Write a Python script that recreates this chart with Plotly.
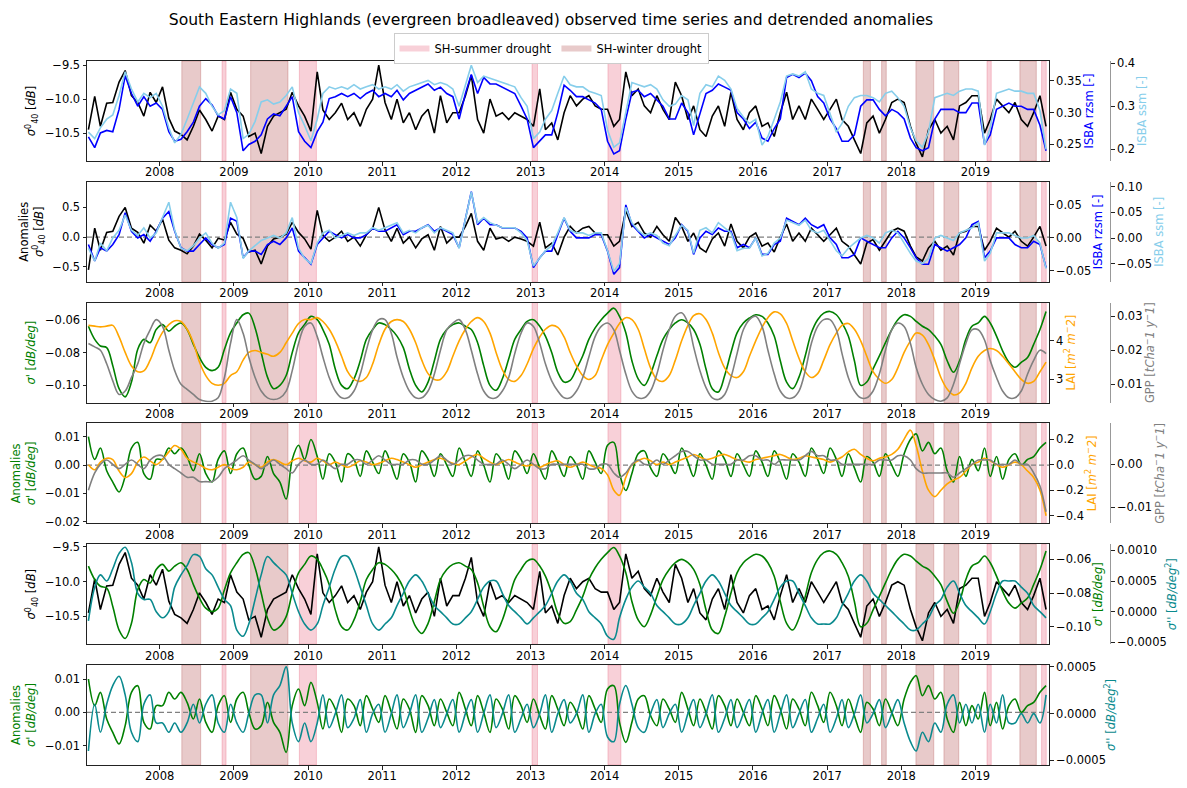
import pandas as pd
import plotly.graph_objects as go

# ---------------- data (monthly, Jan 2007 .. Dec 2019) ----------------
dates = pd.date_range("2007-01-01", "2019-12-01", freq="MS") + pd.Timedelta(days=14)

sigma40 = [
    -10.45, -9.96, -10.40, -10.06, -10.05, -9.75, -9.58, -9.95, -10.05, -10.25, -9.90, -10.05,
    -9.82, -10.28, -10.47, -10.52, -10.60, -10.40, -10.16, -10.30, -10.47, -10.25, -10.30, -9.90,
    -10.15, -10.25, -10.55, -10.50, -10.80, -10.40, -10.25, -10.20, -10.15, -9.90, -10.10, -10.25,
    -10.47, -9.60, -10.16, -10.30, -10.20, -10.06, -10.30, -10.20, -10.40, -10.15, -10.00, -9.50,
    -10.05, -10.30, -10.00, -10.35, -10.20, -10.45, -10.25, -10.15, -10.50, -9.95, -10.35, -10.20,
    -10.20, -9.95, -9.65, -10.30, -10.50, -10.00, -10.25, -10.20, -10.30, -10.20, -10.25, -10.30,
    -10.40, -9.85, -10.45, -10.35, -10.60, -10.20, -9.95, -10.10, -10.00, -9.95, -10.10, -10.15,
    -10.15, -10.40, -10.30, -9.60, -9.95, -9.85, -10.10, -10.20, -9.95, -10.15, -10.30, -9.75,
    -9.95, -10.30, -10.10, -10.45, -10.55, -10.25, -10.10, -10.40, -9.90, -10.30, -10.45, -10.20,
    -10.10, -10.40, -10.35, -10.55, -10.20, -9.90, -10.30, -10.10, -10.30, -10.00, -10.15, -10.30,
    -10.15, -10.00, -10.30, -10.40, -10.60, -10.80, -10.35, -10.25, -10.50, -10.30, -10.05, -10.00,
    -10.05, -10.40, -10.65, -10.85, -10.45, -10.30, -10.50, -10.40, -10.60, -10.10, -10.05, -9.95,
    -9.95, -10.50, -10.30, -10.00, -10.10, -10.20, -10.05, -10.30, -10.40, -10.20, -9.95, -10.40,
]
rzsm = [
    0.262, 0.245, 0.268, 0.272, 0.270, 0.305, 0.358, 0.330, 0.310, 0.325, 0.310, 0.315,
    0.305, 0.270, 0.255, 0.258, 0.270, 0.285, 0.310, 0.322, 0.312, 0.295, 0.290, 0.325,
    0.300, 0.240, 0.250, 0.255, 0.265, 0.290, 0.298, 0.295, 0.310, 0.325, 0.270, 0.255,
    0.245, 0.270, 0.285, 0.322, 0.325, 0.330, 0.325, 0.330, 0.322, 0.330, 0.335, 0.325,
    0.330, 0.325, 0.335, 0.320, 0.330, 0.335, 0.340, 0.345, 0.335, 0.340, 0.330, 0.325,
    0.290, 0.330, 0.360, 0.330, 0.355, 0.345, 0.345, 0.340, 0.335, 0.330, 0.310, 0.290,
    0.245, 0.255, 0.265, 0.265, 0.300, 0.343, 0.335, 0.325, 0.325, 0.320, 0.315, 0.305,
    0.255, 0.235, 0.240, 0.290, 0.332, 0.335, 0.325, 0.330, 0.320, 0.310, 0.290, 0.290,
    0.315, 0.300, 0.265, 0.300, 0.330, 0.335, 0.345, 0.340, 0.335, 0.300, 0.290, 0.275,
    0.285, 0.260, 0.255, 0.275, 0.290, 0.355, 0.360, 0.355, 0.362, 0.350, 0.325, 0.315,
    0.290, 0.275, 0.255, 0.255, 0.265, 0.310, 0.320, 0.320, 0.305, 0.295, 0.305, 0.300,
    0.290, 0.260, 0.245, 0.240, 0.245, 0.290, 0.305, 0.305, 0.305, 0.300, 0.300, 0.315,
    0.315, 0.250, 0.265, 0.305, 0.310, 0.315, 0.310, 0.310, 0.305, 0.305, 0.280, 0.240,
]
ssm = [
    0.240, 0.225, 0.250, 0.270, 0.280, 0.325, 0.380, 0.340, 0.310, 0.330, 0.320, 0.330,
    0.300, 0.250, 0.215, 0.235, 0.270, 0.310, 0.345, 0.330, 0.300, 0.280, 0.290, 0.340,
    0.330, 0.225, 0.235, 0.265, 0.310, 0.315, 0.305, 0.310, 0.325, 0.345, 0.285, 0.255,
    0.220, 0.270, 0.330, 0.345, 0.340, 0.345, 0.340, 0.350, 0.340, 0.345, 0.350, 0.340,
    0.345, 0.340, 0.350, 0.335, 0.345, 0.350, 0.355, 0.360, 0.350, 0.355, 0.350, 0.340,
    0.300, 0.350, 0.395, 0.355, 0.370, 0.365, 0.360, 0.355, 0.350, 0.345, 0.320, 0.300,
    0.225, 0.240, 0.270, 0.290, 0.330, 0.370, 0.350, 0.345, 0.345, 0.335, 0.330, 0.325,
    0.245, 0.205, 0.215, 0.290, 0.355, 0.350, 0.345, 0.350, 0.340, 0.315, 0.300, 0.305,
    0.325, 0.315, 0.255, 0.330, 0.350, 0.345, 0.370, 0.360, 0.340, 0.295, 0.275, 0.260,
    0.270, 0.210, 0.230, 0.270, 0.310, 0.370, 0.375, 0.370, 0.380, 0.340, 0.330, 0.325,
    0.280, 0.240, 0.260, 0.300, 0.320, 0.325, 0.325, 0.320, 0.310, 0.330, 0.335, 0.320,
    0.300, 0.250, 0.220, 0.205, 0.240, 0.320, 0.325, 0.330, 0.325, 0.335, 0.340, 0.340,
    0.335, 0.210, 0.250, 0.330, 0.335, 0.340, 0.335, 0.335, 0.330, 0.330, 0.290, 0.200,
]
sigma40_anom = [
    -0.55, 0.15, -0.22, 0.08, 0.10, 0.35, 0.50, 0.15, 0.08, -0.10, 0.20, 0.10,
    0.30, -0.05, -0.18, -0.22, -0.28, -0.15, 0.05, -0.05, -0.18, -0.02, -0.05, 0.25,
    0.05, -0.02, -0.25, -0.22, -0.45, -0.15, -0.03, 0.00, 0.05, 0.25, 0.08, -0.03,
    -0.20, 0.45, 0.03, -0.07, 0.00, 0.10, -0.07, 0.00, -0.15, 0.04, 0.15, 0.50,
    0.12, -0.07, 0.15, -0.10, 0.00, -0.18, -0.03, 0.04, -0.22, 0.18, -0.10, 0.00,
    0.00, 0.18, 0.40, -0.07, -0.22, 0.15, -0.03, 0.00, -0.07, 0.00, -0.03, -0.07,
    -0.15, 0.25, -0.18, -0.10, -0.30, 0.00, 0.18, 0.07, 0.15, 0.18, 0.07, 0.04,
    0.04, -0.15, -0.07, 0.45, 0.18, 0.25, 0.07, 0.00, 0.18, 0.04, -0.07, 0.33,
    0.18, -0.07, 0.07, -0.18, -0.25, -0.03, 0.07, -0.15, 0.22, -0.07, -0.18, 0.00,
    0.07, -0.15, -0.10, -0.25, 0.00, 0.22, -0.07, 0.07, -0.07, 0.15, 0.04, -0.07,
    0.04, 0.15, -0.07, -0.15, -0.30, -0.45, -0.10, -0.04, -0.22, -0.07, 0.10, 0.15,
    0.10, -0.15, -0.33, -0.40, -0.18, -0.07, -0.22, -0.15, -0.30, 0.07, 0.10, 0.18,
    0.18, -0.22, -0.07, 0.15, 0.07, 0.00, 0.10, -0.07, -0.15, 0.00, 0.18, -0.15,
]
rzsm_anom = [
    -0.010, -0.035, -0.015, -0.020, -0.010, 0.005, 0.038, 0.010, 0.000, 0.005, -0.005, 0.010,
    0.030, 0.040, 0.010, -0.015, -0.020, -0.020, -0.010, 0.000, -0.010, -0.015, -0.010, 0.030,
    0.025, -0.030, -0.020, -0.020, -0.025, -0.010, -0.005, -0.010, 0.000, 0.015, -0.020, -0.030,
    -0.040, -0.010, 0.000, 0.010, 0.005, 0.000, 0.005, 0.000, 0.000, 0.005, 0.015, 0.010,
    0.010, 0.015, 0.020, 0.005, 0.010, 0.010, 0.015, 0.020, 0.010, 0.015, 0.010, 0.005,
    -0.015, 0.030, 0.070, 0.020, 0.030, 0.020, 0.020, 0.015, 0.015, 0.015, 0.010, 0.000,
    -0.045, -0.030, -0.020, -0.020, 0.005, 0.030, 0.010, 0.000, 0.000, 0.000, 0.005, 0.005,
    -0.020, -0.055, -0.045, 0.050, 0.020, 0.010, 0.000, 0.005, 0.000, -0.005, -0.010, 0.000,
    0.020, 0.010, -0.025, 0.000, 0.010, 0.005, 0.015, 0.010, 0.010, -0.015, -0.010, -0.015,
    0.000, -0.025, -0.025, -0.010, -0.005, 0.030, 0.025, 0.020, 0.030, 0.020, 0.015, 0.020,
    0.000, -0.010, -0.030, -0.030, -0.025, 0.000, -0.005, -0.010, -0.015, -0.015, 0.000, 0.010,
    0.000, -0.015, -0.030, -0.040, -0.040, -0.010, -0.015, -0.020, -0.015, -0.010, 0.000, 0.020,
    0.025, -0.030, -0.020, 0.000, 0.000, 0.000, -0.010, -0.015, -0.015, -0.005, -0.010, -0.045,
]
ssm_anom = [
    -0.020, -0.045, -0.010, -0.025, 0.000, 0.015, 0.045, 0.015, 0.005, 0.020, 0.000, 0.010,
    0.040, 0.070, 0.015, -0.020, -0.025, -0.015, 0.000, 0.010, -0.010, -0.020, -0.010, 0.070,
    0.040, -0.040, -0.025, -0.015, -0.005, 0.000, 0.005, 0.000, 0.010, 0.040, -0.020, -0.040,
    -0.050, -0.010, 0.010, 0.015, 0.000, 0.005, 0.010, 0.005, 0.010, 0.010, 0.020, 0.015,
    0.020, 0.025, 0.030, 0.010, 0.015, 0.010, 0.020, 0.025, 0.010, 0.020, 0.015, 0.010,
    -0.020, 0.040, 0.090, 0.030, 0.040, 0.030, 0.025, 0.020, 0.020, 0.020, 0.010, -0.005,
    -0.055, -0.040, -0.025, -0.015, 0.010, 0.040, 0.015, 0.010, 0.010, 0.005, 0.010, 0.010,
    -0.025, -0.065, -0.050, 0.060, 0.030, 0.015, 0.005, 0.010, 0.005, -0.010, -0.015, 0.005,
    0.025, 0.015, -0.030, 0.015, 0.020, 0.010, 0.030, 0.020, 0.010, -0.025, -0.020, -0.020,
    0.000, -0.035, -0.030, -0.010, 0.000, 0.035, 0.030, 0.025, 0.035, 0.015, 0.010, 0.015,
    -0.005, -0.025, -0.035, -0.020, -0.010, 0.000, 0.005, 0.000, -0.010, 0.010, 0.015, 0.010,
    -0.010, -0.030, -0.045, -0.050, -0.040, 0.000, 0.005, 0.000, -0.005, 0.010, 0.015, 0.020,
    0.030, -0.045, -0.030, 0.010, 0.010, 0.010, 0.005, 0.000, 0.000, 0.005, -0.010, -0.060,
]
slope = [
    -0.064, -0.072, -0.076, -0.077, -0.088, -0.102, -0.107, -0.098, -0.078, -0.072, -0.074, -0.066,
    -0.063, -0.067, -0.064, -0.062, -0.066, -0.075, -0.083, -0.089, -0.091, -0.089, -0.078, -0.068,
    -0.062, -0.057, -0.056, -0.065, -0.080, -0.095, -0.102, -0.100, -0.094, -0.080, -0.068, -0.063,
    -0.058, -0.060, -0.066, -0.075, -0.090, -0.100, -0.102, -0.096, -0.085, -0.072, -0.066, -0.062,
    -0.063, -0.066, -0.070, -0.077, -0.090, -0.100, -0.104, -0.098, -0.085, -0.072, -0.066, -0.063,
    -0.062, -0.064, -0.066, -0.074, -0.088, -0.100, -0.103, -0.096, -0.084, -0.072, -0.066, -0.061,
    -0.060, -0.064, -0.070, -0.080, -0.092, -0.098, -0.097, -0.090, -0.082, -0.072, -0.065, -0.060,
    -0.056, -0.053, -0.058, -0.068, -0.085, -0.096, -0.100, -0.093, -0.082, -0.072, -0.066, -0.062,
    -0.060, -0.062, -0.066, -0.075, -0.090, -0.102, -0.104, -0.094, -0.080, -0.068, -0.062, -0.059,
    -0.057, -0.058, -0.062, -0.070, -0.085, -0.098, -0.102, -0.095, -0.082, -0.068, -0.060, -0.056,
    -0.055, -0.057, -0.062, -0.070, -0.085, -0.100, -0.098, -0.090, -0.082, -0.074, -0.066, -0.060,
    -0.057, -0.058, -0.061, -0.064, -0.066, -0.070, -0.075, -0.085, -0.092, -0.085, -0.072, -0.064,
    -0.062, -0.058, -0.062, -0.070, -0.079, -0.086, -0.089, -0.086, -0.083, -0.075, -0.066, -0.055,
]
lai = [
    4.40, 4.38, 4.36, 4.38, 4.40, 4.10, 3.70, 3.35, 3.20, 3.22, 3.50, 3.90,
    4.22, 4.42, 4.52, 4.50, 4.30, 3.95, 3.45, 3.10, 2.90, 2.85, 2.90, 3.10,
    3.20, 3.50, 3.70, 3.75, 3.70, 3.65, 3.60, 3.70, 3.95, 4.20, 4.45, 4.55,
    4.55, 4.60, 4.50, 4.30, 4.00, 3.60, 3.20, 3.00, 2.95, 3.05, 3.40, 3.90,
    4.30, 4.50, 4.55, 4.50, 4.30, 3.95, 3.50, 3.15, 3.00, 3.00, 3.20, 3.60,
    4.00, 4.30, 4.50, 4.60, 4.50, 4.20, 3.70, 3.25, 3.00, 2.95, 3.10, 3.40,
    3.80, 4.10, 4.30, 4.40, 4.35, 4.10, 3.70, 3.35, 3.10, 3.00, 3.10, 3.50,
    3.90, 4.20, 4.45, 4.60, 4.55, 4.30, 3.80, 3.30, 3.00, 2.95, 3.10, 3.50,
    4.00, 4.40, 4.65, 4.70, 4.55, 4.20, 3.70, 3.30, 3.10, 3.05, 3.20, 3.60,
    4.00, 4.35, 4.60, 4.75, 4.70, 4.45, 4.00, 3.55, 3.20, 3.05, 3.15, 3.50,
    3.90, 4.20, 4.40, 4.45, 4.30, 4.00, 3.60, 3.20, 3.00, 2.90, 3.00, 3.30,
    3.70, 4.00, 4.20, 4.15, 3.90, 3.50, 3.05, 2.75, 2.60, 2.65, 2.90, 3.30,
    3.60, 3.75, 3.80, 3.75, 3.60, 3.40, 3.20, 3.00, 2.90, 2.95, 3.20, 3.45,
]
gpp = [
    0.0220, 0.0210, 0.0200, 0.0160, 0.0110, 0.0070, 0.0080, 0.0120, 0.0160, 0.0220, 0.0260, 0.0290,
    0.0270, 0.0200, 0.0140, 0.0100, 0.0085, 0.0070, 0.0055, 0.0050, 0.0050, 0.0060, 0.0120, 0.0220,
    0.0290, 0.0250, 0.0180, 0.0120, 0.0080, 0.0060, 0.0055, 0.0060, 0.0080, 0.0140, 0.0220, 0.0270,
    0.0280, 0.0240, 0.0180, 0.0120, 0.0080, 0.0060, 0.0060, 0.0080, 0.0130, 0.0200, 0.0260, 0.0290,
    0.0290, 0.0250, 0.0180, 0.0120, 0.0080, 0.0060, 0.0060, 0.0080, 0.0130, 0.0200, 0.0260, 0.0280,
    0.0290, 0.0260, 0.0200, 0.0130, 0.0080, 0.0060, 0.0060, 0.0080, 0.0120, 0.0190, 0.0250, 0.0280,
    0.0270, 0.0220, 0.0160, 0.0110, 0.0080, 0.0060, 0.0060, 0.0080, 0.0120, 0.0180, 0.0240, 0.0270,
    0.0280, 0.0260, 0.0200, 0.0130, 0.0080, 0.0060, 0.0060, 0.0080, 0.0130, 0.0200, 0.0260, 0.0300,
    0.0310, 0.0280, 0.0210, 0.0140, 0.0090, 0.0060, 0.0055, 0.0070, 0.0120, 0.0190, 0.0260, 0.0290,
    0.0300, 0.0270, 0.0200, 0.0130, 0.0080, 0.0060, 0.0060, 0.0080, 0.0140, 0.0220, 0.0270, 0.0290,
    0.0290, 0.0260, 0.0190, 0.0120, 0.0080, 0.0060, 0.0060, 0.0080, 0.0130, 0.0200, 0.0260, 0.0280,
    0.0270, 0.0220, 0.0150, 0.0100, 0.0070, 0.0055, 0.0050, 0.0060, 0.0100, 0.0160, 0.0220, 0.0260,
    0.0260, 0.0230, 0.0170, 0.0120, 0.0080, 0.0060, 0.0060, 0.0080, 0.0130, 0.0170, 0.0200, 0.0190,
]
slope_anom = [
    0.010, 0.002, 0.006, -0.002, -0.006, -0.0095, -0.004, 0.006, 0.008, -0.003, -0.005, 0.002,
    0.002, 0.006, 0.004, 0.006, 0.003, -0.002, 0.004, -0.003, -0.006, 0.002, 0.005, -0.003,
    0.004, 0.006, 0.000, -0.005, -0.004, 0.003, -0.003, -0.006, -0.012, 0.002, 0.007, 0.002,
    0.009, 0.003, -0.005, 0.004, 0.001, -0.006, 0.004, 0.002, -0.004, 0.005, 0.001, -0.003,
    0.005, 0.000, -0.005, 0.004, 0.001, -0.006, 0.005, 0.002, -0.004, 0.004, 0.000, -0.004,
    0.006, 0.001, -0.004, 0.005, 0.000, -0.006, 0.004, 0.001, -0.005, 0.005, 0.002, -0.003,
    0.004, -0.001, -0.005, 0.005, 0.001, -0.004, 0.003, 0.000, -0.005, 0.005, 0.001, -0.003,
    0.007, 0.008, -0.003, -0.009, -0.003, 0.004, 0.005, -0.001, -0.004, 0.004, 0.001, -0.003,
    0.006, 0.001, -0.004, 0.004, 0.000, -0.005, 0.005, 0.002, -0.004, 0.004, 0.000, -0.004,
    0.005, 0.001, -0.004, 0.005, 0.001, -0.005, 0.004, 0.001, -0.004, 0.006, 0.002, -0.003,
    0.006, 0.002, -0.004, 0.004, -0.001, -0.006, 0.003, 0.001, -0.004, 0.004, 0.000, -0.004,
    0.004, 0.009, 0.011, 0.005, 0.008, 0.004, 0.006, -0.002, -0.006, 0.003, -0.004, 0.002,
    -0.002, 0.006, -0.004, 0.003, -0.005, 0.002, 0.004, 0.000, 0.002, 0.003, 0.006, 0.008,
]
lai_anom = [
    0.00, -0.04, 0.02, 0.05, 0.04, -0.05, -0.10, -0.07, 0.02, 0.06, 0.03, 0.00,
    0.04, 0.10, 0.15, 0.12, 0.05, 0.02, 0.00, -0.03, -0.04, -0.02, 0.00, -0.03,
    -0.04, -0.02, 0.02, 0.00, -0.02, 0.02, 0.04, 0.02, 0.00, 0.03, 0.05, 0.03,
    0.02, 0.05, 0.03, 0.00, 0.02, 0.00, -0.02, 0.00, 0.03, 0.02, 0.00, 0.01,
    0.03, 0.05, 0.04, 0.02, 0.00, -0.02, 0.00, 0.02, 0.04, 0.05, 0.03, 0.01,
    0.00, 0.03, 0.06, 0.08, 0.05, 0.02, 0.00, 0.02, 0.04, 0.02, 0.00, -0.01,
    0.00, -0.02, 0.00, 0.02, 0.03, 0.00, -0.02, 0.00, 0.02, 0.00, -0.02, -0.03,
    -0.08, -0.20, -0.24, -0.10, 0.00, 0.03, 0.05, 0.03, 0.00, 0.02, 0.00, 0.02,
    0.04, 0.06, 0.08, 0.06, 0.04, 0.05, 0.07, 0.08, 0.06, 0.04, 0.03, 0.02,
    0.04, 0.05, 0.06, 0.07, 0.08, 0.06, 0.04, 0.05, 0.07, 0.06, 0.05, 0.04,
    0.02, 0.04, 0.06, 0.10, 0.12, 0.08, 0.05, 0.03, 0.05, 0.06, 0.08, 0.12,
    0.20, 0.27, 0.15, -0.05, -0.20, -0.25, -0.20, -0.15, -0.12, -0.10, -0.05, 0.00,
    0.02, 0.05, 0.03, 0.00, -0.02, 0.00, 0.02, 0.00, -0.05, -0.10, -0.20, -0.40,
]
gpp_anom = [
    -0.006, -0.002, 0.000, 0.001, 0.000, -0.001, 0.000, 0.001, 0.000, -0.001, 0.001, 0.002,
    0.002, 0.000, -0.001, -0.002, -0.003, -0.003, -0.004, -0.004, -0.004, -0.003, -0.001, 0.000,
    0.001, 0.002, 0.001, 0.000, -0.001, 0.000, 0.001, 0.000, -0.001, -0.002, 0.000, 0.001,
    0.000, 0.000, 0.001, 0.000, -0.001, 0.000, 0.000, 0.001, 0.001, 0.000, 0.001, 0.002,
    0.001, 0.000, 0.000, 0.000, 0.001, 0.001, 0.000, 0.000, 0.001, 0.002, 0.001, 0.000,
    0.001, 0.002, 0.002, 0.001, 0.000, 0.000, 0.000, 0.001, 0.000, -0.001, 0.000, 0.001,
    0.000, -0.001, -0.001, 0.000, 0.000, 0.000, 0.000, 0.000, 0.000, -0.001, -0.001, 0.000,
    0.000, -0.002, -0.003, -0.002, 0.000, 0.001, 0.000, 0.000, 0.001, 0.000, 0.001, 0.002,
    0.003, 0.003, 0.002, 0.001, 0.001, 0.000, 0.000, 0.000, 0.000, 0.001, 0.001, 0.002,
    0.002, 0.001, 0.001, 0.000, 0.001, 0.001, 0.001, 0.001, 0.002, 0.003, 0.002, 0.002,
    0.001, 0.001, 0.000, 0.000, 0.000, 0.000, 0.000, 0.000, 0.001, 0.001, 0.001, 0.002,
    0.002, 0.001, -0.001, -0.002, -0.002, -0.002, -0.002, -0.002, -0.003, -0.002, -0.001, 0.000,
    0.001, 0.001, 0.001, 0.000, 0.000, 0.000, 0.001, 0.000, 0.000, -0.002, -0.005, -0.011,
]
curv = [
    -0.00015, 0.0004, 0.0006, 0.0005, 0.0007, 0.00095, 0.00105, 0.0008, 0.0003, 0.0002, 0.0002, 0.0,
    -0.0001, 0.0, 0.0004, 0.0006, 0.00075, 0.00093, 0.0009, 0.0007, 0.0006, 0.0004, 0.0002, 0.0001,
    -0.0003, -0.0004, -0.0002, 0.0002, 0.0006, 0.0009, 0.0008, 0.0007, 0.0006, 0.0003, 0.0, -0.0002,
    -0.0003, -0.0002, 0.0001, 0.0004, 0.0007, 0.0009, 0.0009, 0.0007, 0.0004, 0.0001, -0.0002, -0.0003,
    -0.0002, -0.0001, 0.0001, 0.0003, 0.0005, 0.0006, 0.0005, 0.0003, 0.0001, 0.0, -0.0001, -0.0002,
    -0.0002, -0.0001, 0.0, 0.0002, 0.0004, 0.0005, 0.0005, 0.0003, 0.0001, 0.0, -0.0001, -0.0002,
    -0.0001, 0.0, 0.0001, 0.0003, 0.0005, 0.0006, 0.0005, 0.0003, 0.0002, 0.0, -0.0001, -0.0002,
    -0.0004, -0.00045, -0.0001, 0.0002, 0.0004, 0.0005, 0.0004, 0.0003, 0.0001, 0.0, -0.0001, -0.0002,
    -0.0002, -0.0001, 0.0001, 0.0003, 0.0005, 0.0006, 0.0005, 0.0003, 0.0001, 0.0, -0.0001, -0.0002,
    -0.0002, -0.0001, 0.0, 0.0002, 0.0004, 0.0005, 0.0005, 0.0003, 0.0001, -0.0001, -0.0002, -0.0002,
    -0.0002, -0.0001, 0.0001, 0.0003, 0.0005, 0.0006, 0.0005, 0.0003, 0.0002, 0.0001, 0.0, -0.0001,
    -0.0002, -0.0003, -0.0003, -0.0002, -0.0001, 0.0001, 0.0002, 0.0004, 0.0005, 0.0003, 0.0001, 0.0,
    -0.0001, -0.0002, 0.0, 0.0003, 0.0005, 0.0005, 0.0005, 0.0004, 0.0003, 0.0001, 0.0, -0.0001,
]
curv_anom = [
    -0.0004, 0.0001, -0.0002, 0.0001, 0.0003, 0.0004, 0.0002, -0.0002, -0.0003, 0.0001, 0.0002, -0.0001,
    -0.0001, -0.0002, -0.0001, -0.0002, -0.0001, 0.0001, -0.0001, 0.0001, 0.0002, -0.0001, -0.0002, 0.0001,
    -0.0001, -0.0002, 0.0, 0.0002, 0.0002, -0.0001, 0.0002, 0.0003, 0.0005, -0.0001, -0.0003, -0.0001,
    -0.0003, -0.0001, 0.0002, -0.00015, 0.0, 0.0002, -0.00015, -0.00005, 0.00015, -0.0002, 0.0, 0.0001,
    -0.0002, 0.0, 0.0002, -0.00015, 0.0, 0.0002, -0.0002, -0.00005, 0.00015, -0.00015, 0.0, 0.00015,
    -0.0002, 0.0, 0.00015, -0.0002, 0.0, 0.0002, -0.00015, 0.0, 0.0002, -0.0002, -0.00005, 0.0001,
    -0.00015, 0.0, 0.0002, -0.0002, 0.0, 0.00015, -0.0001, 0.0, 0.0002, -0.0002, 0.0, 0.0001,
    -0.00025, -0.0003, 0.0001, 0.0003, 0.0001, -0.00015, -0.0002, 0.0, 0.00015, -0.00015, 0.0, 0.0001,
    -0.0002, 0.0, 0.00015, -0.00015, 0.0, 0.0002, -0.0002, -0.00005, 0.00015, -0.00015, 0.0, 0.00015,
    -0.0002, 0.0, 0.00015, -0.0002, 0.0, 0.0002, -0.00015, 0.0, 0.00015, -0.0002, -0.00005, 0.0001,
    -0.0002, -0.00005, 0.00015, -0.00015, 0.0, 0.0002, -0.0001, 0.0, 0.00015, -0.00015, 0.0, 0.00015,
    -0.0001, -0.0003, -0.0004, -0.0002, -0.0003, -0.0001, -0.0002, 0.0001, 0.0002, -0.0001, 0.0001, -0.0001,
    0.0001, -0.0002, 0.0001, -0.0001, 0.0002, -0.0001, -0.0001, 0.0, -0.0001, 0.0, -0.0001, 0.0002,
]

summer_droughts = [("2008-11-03", "2008-11-23"), ("2009-11-19", "2010-02-11"),
                   ("2013-01-08", "2013-02-04"), ("2014-01-17", "2014-03-22"),
                   ("2019-02-27", "2019-03-20"), ("2019-11-23", "2019-12-16")]
winter_droughts = [("2008-04-19", "2008-07-21"), ("2009-03-24", "2009-09-24"),
                   ("2017-06-28", "2017-08-02"), ("2017-09-26", "2017-10-19"),
                   ("2018-03-14", "2018-06-10"), ("2018-07-30", "2018-10-11"),
                   ("2019-08-08", "2019-10-28")]

# ---------------- layout geometry ----------------
W, H = 1187, 788
ML, MR, MT, MB = 87, 77, 61, 23
PW, PH = W - ML - MR, H - MT - MB
XR = (1049.3 - ML) / PW
TOPS = [61 + 120.8 * i for i in range(6)]
PANEL_H = 100.0

def dom(top):
    lo = max(0.0, (H - MB - (top + PANEL_H)) / PH)
    hi = min(1.0, (H - MB - top) / PH)
    return [lo, hi]

FONT = "DejaVu Sans"
FS = 11.5
SUMMER = "rgba(220,20,60,0.20)"
WINTER = "rgba(165,42,42,0.25)"
C_BLUE, C_SKY, C_GREEN = "blue", "#87ceeb", "green"
C_ORANGE, C_GRAY, C_TEAL = "orange", "gray", "#0a8a8e"

fig = go.Figure()
layout = dict(
    width=W, height=H, margin=dict(l=ML, r=MR, t=MT, b=MB),
    paper_bgcolor="white", plot_bgcolor="white",
    font=dict(family=FONT, size=FS, color="black"),
    showlegend=True,
    title=dict(text="South Eastern Highlands (evergreen broadleaved) observed time series and detrended anomalies",
               x=551 / W, xanchor="center", y=1 - 20 / H, yanchor="middle",
               font=dict(size=15.6, family=FONT, color="black")),
    legend=dict(orientation="h", x=(551 - ML) / PW, xanchor="center", y=(H - MB - 33) / PH, yanchor="top",
                bordercolor="#cccccc", borderwidth=1, bgcolor="white",
                font=dict(size=FS, family=FONT), itemwidth=30, tracegroupgap=0),
)

def yname(n):
    return "y" if n == 1 else f"y{n}"

def ykey(n):
    return "yaxis" if n == 1 else f"yaxis{n}"

def xname(i):
    return "x" if i == 1 else f"x{i}"

def xkey(i):
    return "xaxis" if i == 1 else f"xaxis{i}"

def ytitle(text, color, standoff=4):
    return dict(text=text, font=dict(color=color, size=FS, family=FONT), standoff=standoff)

def left_axis(n, i, rng, tv, fmt, title, tcolor):
    layout[ykey(n)] = dict(domain=dom(TOPS[i - 1]), anchor=xname(i), range=rng, tickvals=tv, tickformat=fmt,
                           showline=True, linecolor="#222", linewidth=1, mirror=True, ticks="outside",
                           ticklen=3.5, tickcolor="#222", showgrid=False, zeroline=False,
                           title=ytitle(title, tcolor, 6), automargin=False)

def right_axis(n, base, i, rng, tv, fmt, title, tcolor, free=False):
    d = dict(overlaying=yname(base), side="right", range=rng, tickvals=tv, tickformat=fmt,
             ticks="outside", ticklen=3.5, tickcolor="#222", showgrid=False, zeroline=False,
             automargin=False)
    if free:
        d.update(anchor="free", position=1.0, showline=True, linecolor="#999", linewidth=1.2,
                 title=ytitle(title, tcolor, 2))
    else:
        d.update(anchor=xname(i), showline=False, title=ytitle(title, tcolor, 1))
    layout[ykey(n)] = d

for i in range(1, 7):
    layout[xkey(i)] = dict(domain=[0, XR], anchor=yname(3 * i - 2 if i < 6 else 16), type="date",
                           range=["2007-01-08", "2019-12-31"], dtick="M12", tick0="2008-01-01",
                           tickformat="%Y", ticks="outside", ticklen=3.5, tickcolor="#222",
                           ticklabelstandoff=-3,
                           showline=True, linecolor="#222", linewidth=1, mirror=True,
                           showgrid=False, zeroline=False, automargin=False)
    if i > 1:
        layout[xkey(i)]["matches"] = "x"

S40 = "<i>σ</i><sup>0</sup><sub>40</sub> [<i>dB</i>]"
SP = "<i>σ'</i> [<i>dB/deg</i>]"
SPP = "<i>σ''</i> [<i>dB/deg</i><sup>2</sup>]"
LAI_T = "LAI [<i>m</i><sup>2</sup> <i>m</i><sup>−</sup><i>2</i>]"
GPP_T = "GPP [<i>tCha</i><sup>−</sup><i>1 y</i><sup>−</sup><i>1</i>]"

# panel axes
left_axis(1, 1, [-10.91, -9.44], [-10.5, -10.0, -9.5], ".1f", S40, "black")
right_axis(2, 1, 1, [0.224, 0.381], [0.25, 0.30, 0.35], ".2f", "ISBA rzsm [-]", C_BLUE)
right_axis(3, 1, 1, [0.173, 0.405], [0.2, 0.3, 0.4], ".1f", "ISBA ssm [-]", C_SKY, free=True)

left_axis(4, 2, [-0.75, 0.93], [-0.5, 0.0, 0.5], ".1f", "Anomalies<br>" + S40, "black")
right_axis(5, 4, 2, [-0.0665, 0.085], [-0.05, 0.0, 0.05], ".2f", "ISBA rzsm [-]", C_BLUE)
right_axis(6, 4, 2, [-0.0857, 0.11], [-0.05, 0.0, 0.05, 0.10], ".2f", "ISBA ssm [-]", C_SKY, free=True)

left_axis(7, 3, [-0.1105, -0.0496], [-0.10, -0.08, -0.06], ".2f", SP, C_GREEN)
right_axis(8, 7, 3, [2.40, 4.99], [3, 4], "d", LAI_T, C_ORANGE)
right_axis(9, 7, 3, [0.0046, 0.034], [0.01, 0.02, 0.03], ".2f", GPP_T, C_GRAY, free=True)

left_axis(10, 4, [-0.0206, 0.0147], [-0.02, -0.01, 0.0, 0.01], ".2f", "Anomalies<br>" + SP, C_GREEN)
right_axis(11, 10, 4, [-0.46, 0.323], [-0.4, -0.2, 0.0, 0.2], ".1f", LAI_T, C_ORANGE)
right_axis(12, 10, 4, [-0.0137, 0.0095], [-0.01, 0.0], ".2f", GPP_T, C_GRAY, free=True)

left_axis(13, 5, [-10.90, -9.46], [-10.5, -10.0, -9.5], ".1f", S40, "black")
right_axis(14, 13, 5, [-0.1104, -0.051], [-0.10, -0.08, -0.06], ".2f", SP, C_GREEN)
right_axis(15, 13, 5, [-0.00053, 0.0011], [-0.0005, 0.0, 0.0005, 0.0010], ".4f", SPP, C_TEAL, free=True)

left_axis(16, 6, [-0.0158, 0.0142], [-0.01, 0.0, 0.01], ".2f", "Anomalies<br>" + SP, C_GREEN)
right_axis(17, 16, 6, [-0.00055, 0.00052], [-0.0005, 0.0, 0.0005], ".4f", SPP, C_TEAL)

LW = 1.6

def add(y, i, n, color, smooth=False):
    line = dict(color=color, width=LW)
    if smooth:
        line.update(shape="spline", smoothing=1.0)
    fig.add_trace(go.Scatter(x=dates, y=y, mode="lines", line=line,
                             xaxis=xname(i), yaxis=yname(n), showlegend=False, hoverinfo="skip"))

# legend entries
fig.add_trace(go.Scatter(x=[None], y=[None], mode="none", fill="toself", fillcolor=SUMMER,
                         name="SH-summer drought", xaxis="x", yaxis="y"))
fig.add_trace(go.Scatter(x=[None], y=[None], mode="none", fill="toself", fillcolor=WINTER,
                         name="SH-winter drought", xaxis="x", yaxis="y"))

add(sigma40, 1, 1, "black"); add(rzsm, 1, 2, C_BLUE); add(ssm, 1, 3, C_SKY)
add(sigma40_anom, 2, 4, "black"); add(rzsm_anom, 2, 5, C_BLUE); add(ssm_anom, 2, 6, C_SKY)
add(slope, 3, 7, C_GREEN, True); add(lai, 3, 8, C_ORANGE, True); add(gpp, 3, 9, C_GRAY, True)
add(slope_anom, 4, 10, C_GREEN, True); add(lai_anom, 4, 11, C_ORANGE, True); add(gpp_anom, 4, 12, C_GRAY, True)
add(sigma40, 5, 13, "black"); add(slope, 5, 14, C_GREEN, True); add(curv, 5, 15, C_TEAL, True)
add(slope_anom, 6, 16, C_GREEN, True); add(curv_anom, 6, 17, C_TEAL, True)

shapes = []
left_of = {1: 1, 2: 4, 3: 7, 4: 10, 5: 13, 6: 16}
for i in range(1, 7):
    yl = yname(left_of[i])
    for (a, b) in summer_droughts:
        shapes.append(dict(type="rect", xref=xname(i), yref=f"{yl} domain", x0=a, x1=b, y0=0, y1=1,
                           fillcolor=SUMMER, line=dict(width=1, color=SUMMER), layer="below"))
    for (a, b) in winter_droughts:
        shapes.append(dict(type="rect", xref=xname(i), yref=f"{yl} domain", x0=a, x1=b, y0=0, y1=1,
                           fillcolor=WINTER, line=dict(width=1, color=WINTER), layer="below"))
for i in (2, 4, 6):
    yl = yname(left_of[i])
    shapes.append(dict(type="line", xref=f"{xname(i)} domain", yref=yl, x0=0, x1=1, y0=0, y1=0,
                       line=dict(color="gray", width=1.2, dash="5px,3px"), layer="below"))
layout["shapes"] = shapes

fig.update_layout(**layout)
fig.write_html("out.html", config={"displayModeBar": False},
               post_script="document.body.style.margin='0';document.body.style.padding='0';"
                           "document.body.style.overflow='hidden';")
